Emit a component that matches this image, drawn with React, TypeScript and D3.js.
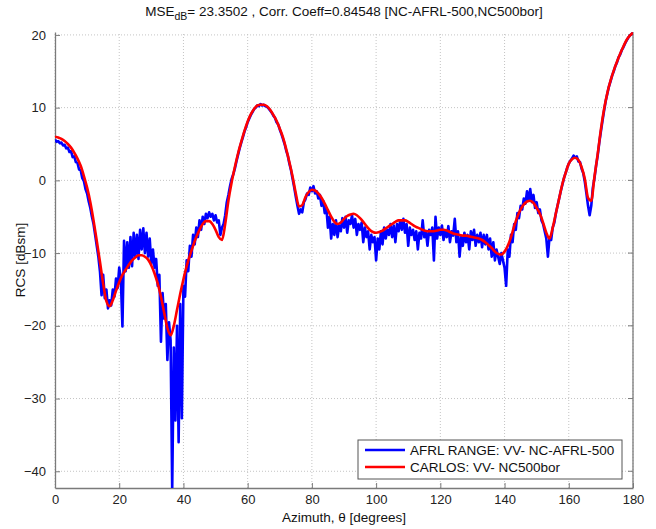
import React, { useEffect, useRef } from "react";
import * as d3 from "d3";

// measured range data, one value every 0.5 degrees from 0 to 180
const afrlRcs = [
  5.6, 5.3, 5.4, 5.1, 5.2, 4.8, 4.9, 4.4, 4.5, 3.9, 4.0, 3.2, 3.3, 2.5, 2.4, 1.5, 1.4, 0.3, -0.1, -1.2,
  -1.8, -2.9, -3.8, -5.0, -6.0, -7.5, -9.0, -10.5, -12.5, -15.8, -13.0, -16.2, -15.0, -17.6, -16.5, -17.2, -15.0, -16.0, -13.5, -14.8,
  -12.0, -13.5, -20.1, -8.3, -12.5, -8.5, -12.0, -7.8, -11.8, -7.2, -10.5, -7.5, -10.8, -6.8, -9.5, -6.6, -10.0, -7.2, -10.5, -8.0,
  -11.5, -9.5, -12.0, -10.8, -14.5, -13.0, -22.2, -15.5, -19.0, -17.0, -24.7, -19.5, -22.0, -42.5, -23.0, -33.0, -20.0, -36.0, -17.0, -32.7,
  -14.5, -16.0, -11.0, -12.5, -9.0, -10.5, -7.5, -8.8, -6.5, -7.8, -5.5, -6.8, -5.0, -6.0, -4.6, -5.2, -4.4, -5.0, -4.6, -5.5,
  -4.8, -5.8, -5.5, -7.5, -6.5, -6.0, -4.8, -3.0, -2.0, -0.8, 0.2, 0.8, 1.6, 2.6, 3.5, 4.4, 5.2, 5.9, 6.7, 7.3,
  8.0, 8.5, 9.0, 9.4, 9.8, 10.0, 10.3, 10.2, 10.5, 10.3, 10.4, 10.2, 10.1, 9.9, 9.6, 9.3, 8.9, 8.6, 8.0, 7.7,
  7.0, 6.4, 5.7, 5.0, 4.1, 3.4, 2.3, 1.4, 0.2, -1.0, -2.3, -3.5, -4.6, -4.0, -4.4, -3.0, -2.6, -1.8, -2.0, -1.0,
  -1.5, -0.8, -1.8, -1.5, -2.5, -2.0, -3.5, -2.8, -4.5, -3.8, -6.5, -5.0, -8.0, -6.0, -7.5, -5.5, -7.8, -6.2, -7.0, -5.2,
  -6.5, -5.0, -7.2, -5.5, -6.0, -4.8, -6.5, -5.3, -7.5, -6.0, -6.8, -5.8, -8.5, -6.5, -7.8, -7.0, -9.5, -7.5, -8.5, -7.8,
  -11.0, -8.0, -9.5, -7.0, -8.8, -6.5, -8.0, -6.8, -7.5, -6.0, -7.8, -6.2, -8.5, -6.0, -7.0, -5.5, -6.8, -5.3, -7.2, -6.0,
  -9.0, -6.5, -7.5, -6.8, -8.2, -7.0, -9.5, -7.2, -8.0, -5.5, -7.8, -7.0, -9.0, -6.8, -7.5, -6.5, -11.0, -5.0, -8.0, -6.5,
  -7.5, -6.2, -8.2, -7.0, -7.8, -6.3, -8.5, -7.0, -7.6, -5.3, -8.5, -7.0, -10.5, -7.8, -9.0, -7.2, -8.5, -7.5, -9.5, -7.0,
  -8.2, -6.8, -9.0, -7.5, -8.5, -7.2, -9.2, -7.5, -8.8, -7.5, -9.5, -8.0, -10.5, -8.5, -11.0, -9.5, -10.5, -11.5, -10.0, -11.0,
  -12.0, -14.5, -9.5, -10.5, -7.5, -8.5, -6.0, -6.8, -4.5, -5.2, -3.5, -4.0, -2.5, -3.2, -1.5, -2.8, -1.2, -3.0, -2.0, -3.8,
  -3.0, -4.5, -4.0, -5.5, -6.0, -7.0, -8.0, -10.5, -7.8, -8.2, -6.5, -5.8, -4.5, -3.5, -2.5, -1.5, -0.6, 0.3, 1.0, 1.7,
  2.3, 2.7, 3.0, 3.4, 3.1, 3.3, 2.6, 2.5, 1.6, 1.0, -0.2, -1.8, -3.5, -4.8, -3.5, -1.0, 0.3, 2.0, 3.4, 5.2,
  6.7, 8.2, 9.6, 10.9, 11.9, 12.9, 13.6, 14.4, 15.0, 15.7, 16.2, 16.9, 17.3, 17.9, 18.3, 18.8, 19.2, 19.6, 19.9, 20.1,
  20.3,
];

// CARLOS prediction, one value per degree from 0 to 180
const carlosRcs = [
  6.0, 5.9, 5.7, 5.4, 5.0, 4.5, 3.8, 3.0, 2.0, 0.6,
  -1.0, -3.0, -5.5, -8.3, -11.2, -14.2, -16.6, -17.3, -16.5, -15.2,
  -14.0, -13.0, -12.3, -11.6, -11.0, -10.6, -10.3, -10.3, -10.5, -10.9,
  -11.7, -12.8, -14.2, -16.0, -18.2, -20.3, -21.3, -20.0, -17.8, -15.6,
  -13.6, -11.8, -10.3, -9.0, -7.8, -6.8, -6.0, -5.6, -5.6, -6.0,
  -6.8, -7.8, -8.2, -6.0, -2.8, -0.3, 1.8, 3.7, 5.3, 6.8,
  8.1, 9.1, 9.8, 10.3, 10.4, 10.4, 10.2, 9.7, 9.0, 8.2,
  7.1, 5.9, 4.3, 2.5, 0.5, -1.8, -3.6, -3.4, -2.3, -1.6,
  -1.3, -1.4, -1.8, -2.4, -3.2, -4.1, -5.0, -5.7, -6.0, -5.8,
  -5.3, -4.9, -4.7, -4.6, -4.8, -5.2, -5.7, -6.3, -6.8, -7.1,
  -7.2, -7.1, -6.9, -6.6, -6.3, -6.0, -5.7, -5.5, -5.5, -5.5,
  -5.7, -6.0, -6.3, -6.5, -6.7, -6.9, -7.0, -7.0, -7.0, -6.9,
  -6.8, -6.8, -6.9, -7.1, -7.3, -7.4, -7.5, -7.6, -7.6, -7.7,
  -7.8, -7.9, -8.0, -8.2, -8.5, -8.9, -9.3, -9.8, -10.1, -10.2,
  -9.8, -9.0, -7.8, -6.3, -5.0, -4.0, -3.3, -2.9, -2.8, -3.1,
  -3.8, -4.6, -5.8, -7.2, -8.0, -6.5, -4.5, -2.5, -0.5, 1.0,
  2.3, 2.9, 3.1, 2.8, 1.8, 0.2, -2.4, -2.8, 0.5, 3.6,
  7.0, 9.8, 12.0, 13.7, 15.1, 16.3, 17.4, 18.4, 19.3, 19.9,
  20.3,
];

const xTicks = [0, 20, 40, 60, 80, 100, 120, 140, 160, 180];
const yTicks = [-40, -30, -20, -10, 0, 10, 20];
const legendLabels = ["AFRL RANGE: VV- NC-AFRL-500", "CARLOS: VV- NC500bor"];
const seriesColors = ["#0000ff", "#ff0000"];

const FONT = "Arial, 'Liberation Sans', sans-serif";

function App() {
  const svgRef = useRef<SVGSVGElement>(null);

  useEffect(() => {
    const width = 656;
    const height = 529;
    const m = { left: 55, right: 23, top: 32, bottom: 41 };

    const svg = d3.select(svgRef.current);
    svg.selectAll("*").remove();
    svg.attr("width", width).attr("height", height).style("background", "#fff");

    const x = d3.scaleLinear().domain([0, 180]).range([m.left, width - m.right]);
    const y = d3.scaleLinear().domain([-42.3, 20.4]).range([height - m.bottom, m.top]);

    const [x0, x1] = x.range();
    const [y0, y1] = y.range(); // y0 bottom, y1 top

    svg.append("defs").append("clipPath").attr("id", "plotclip")
      .append("rect").attr("x", x0).attr("y", y1).attr("width", x1 - x0).attr("height", y0 - y1);

    // grid
    const grid = svg.append("g").attr("stroke", "#c4c4c4").attr("stroke-dasharray", "1,2").attr("stroke-width", 1);
    xTicks.forEach(t => {
      grid.append("line").attr("x1", x(t)).attr("x2", x(t)).attr("y1", y0).attr("y2", y1);
    });
    yTicks.forEach(t => {
      grid.append("line").attr("x1", x0).attr("x2", x1).attr("y1", y(t)).attr("y2", y(t));
    });

    // axes
    const axisCol = "#7a7a7a";
    const xAxis = d3.axisBottom(x).tickValues(xTicks).tickSizeInner(-5).tickSizeOuter(0).tickPadding(7);
    const yAxis = d3.axisLeft(y).tickValues(yTicks).tickSizeInner(-5).tickSizeOuter(0).tickPadding(9);

    const gx = svg.append("g").attr("transform", `translate(0,${y0})`).call(xAxis);
    const gy = svg.append("g").attr("transform", `translate(${x0},0)`).call(yAxis);
    [gx, gy].forEach(g => {
      g.select(".domain").attr("stroke", axisCol).attr("stroke-width", 1.3);
      g.selectAll(".tick line").attr("stroke", axisCol);
      g.selectAll(".tick text").attr("fill", "#222").style("font-family", FONT).style("font-size", "13px");
    });

    // right edge with inward ticks
    svg.append("line").attr("x1", x1).attr("x2", x1).attr("y1", y0).attr("y2", y1)
      .attr("stroke", axisCol).attr("stroke-width", 1.3);
    yTicks.forEach(t => {
      svg.append("line").attr("x1", x1).attr("x2", x1 - 5).attr("y1", y(t)).attr("y2", y(t)).attr("stroke", axisCol);
    });

    // series
    const blueLine = d3.line<number>().x((_, i) => x(i * 0.5)).y(d => y(d));
    const redLine = d3.line<number>().x((_, i) => x(i)).y(d => y(d)).curve(d3.curveMonotoneX);

    const plot = svg.append("g").attr("clip-path", "url(#plotclip)");
    plot.append("path").datum(afrlRcs).attr("d", blueLine)
      .attr("fill", "none").attr("stroke", seriesColors[0]).attr("stroke-width", 2.6).attr("stroke-linejoin", "round");
    plot.append("path").datum(carlosRcs).attr("d", redLine)
      .attr("fill", "none").attr("stroke", seriesColors[1]).attr("stroke-width", 2.6).attr("stroke-linejoin", "round");

    // title
    const title = svg.append("text").attr("x", (x0 + x1) / 2).attr("y", 16)
      .attr("text-anchor", "middle").style("font-family", FONT).style("font-size", "13.5px").attr("fill", "#111");
    title.append("tspan").text("MSE");
    title.append("tspan").attr("dy", 4).style("font-size", "10.5px").text("dB");
    title.append("tspan").attr("dy", -4).text("= 23.3502 , Corr. Coeff=0.84548 [NC-AFRL-500,NC500bor]");

    // axis labels
    svg.append("text").attr("x", (x0 + x1) / 2).attr("y", 522).attr("text-anchor", "middle")
      .style("font-family", FONT).style("font-size", "13.5px").attr("fill", "#111")
      .text("Azimuth, θ [degrees]");
    svg.append("text").attr("transform", `translate(25,${(y0 + y1) / 2}) rotate(-90)`).attr("text-anchor", "middle")
      .style("font-family", FONT).style("font-size", "13.5px").attr("fill", "#111")
      .text("RCS [dBsm]");

    // legend
    const lg = svg.append("g");
    lg.append("rect").attr("x", 358).attr("y", 440).attr("width", 264).attr("height", 39)
      .attr("fill", "#fff").attr("stroke", "#555").attr("stroke-width", 1);
    legendLabels.forEach((lab, i) => {
      const ly = 450 + i * 17;
      lg.append("line").attr("x1", 365).attr("x2", 405).attr("y1", ly).attr("y2", ly)
        .attr("stroke", seriesColors[i]).attr("stroke-width", 2.6);
      lg.append("text").attr("x", 410).attr("y", ly + 5)
        .style("font-family", FONT).style("font-size", "13.5px").attr("fill", "#111").text(lab);
    });
  }, []);

  return (
    <div style={{ position: "absolute", left: 0, top: 0 }}>
      <svg ref={svgRef}></svg>
    </div>
  );
}

export default App;
